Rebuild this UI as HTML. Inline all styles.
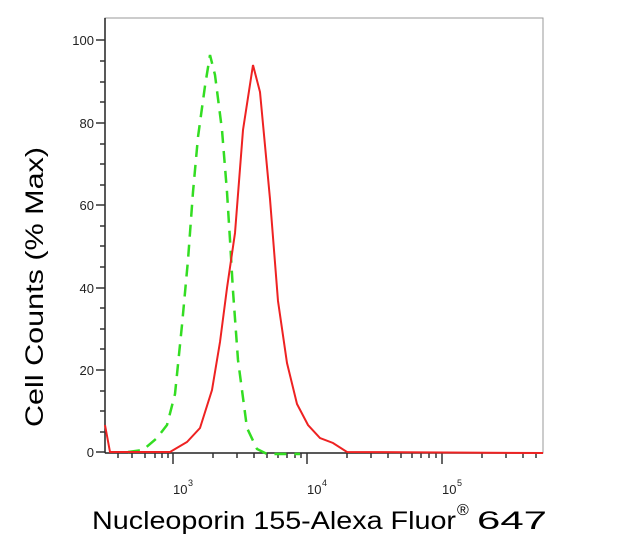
<!DOCTYPE html>
<html><head><style>
html,body{margin:0;padding:0;background:#fff;}
svg{display:block;}
text{font-family:"Liberation Sans",Arial,sans-serif;}
</style></head><body>
<svg width="640" height="539" viewBox="0 0 640 539" xmlns="http://www.w3.org/2000/svg">
<rect x="105" y="18" width="438" height="435" fill="none" stroke="#999" stroke-width="1"/>
<line x1="105" y1="18" x2="105" y2="453" stroke="#222" stroke-width="1.5"/>
<line x1="105" y1="453" x2="543" y2="453" stroke="#222" stroke-width="1.5"/>
<g stroke="#333" stroke-width="1.5">
<line x1="96" y1="452" x2="105" y2="452"/><line x1="96" y1="370" x2="105" y2="370"/><line x1="96" y1="288" x2="105" y2="288"/><line x1="96" y1="205" x2="105" y2="205"/><line x1="96" y1="123" x2="105" y2="123"/><line x1="96" y1="40" x2="105" y2="40"/>
<line x1="100" y1="432" x2="105" y2="432"/><line x1="100" y1="411" x2="105" y2="411"/><line x1="100" y1="391" x2="105" y2="391"/><line x1="100" y1="349" x2="105" y2="349"/><line x1="100" y1="329" x2="105" y2="329"/><line x1="100" y1="308" x2="105" y2="308"/><line x1="100" y1="267" x2="105" y2="267"/><line x1="100" y1="246" x2="105" y2="246"/><line x1="100" y1="226" x2="105" y2="226"/><line x1="100" y1="185" x2="105" y2="185"/><line x1="100" y1="164" x2="105" y2="164"/><line x1="100" y1="144" x2="105" y2="144"/><line x1="100" y1="102" x2="105" y2="102"/><line x1="100" y1="82" x2="105" y2="82"/><line x1="100" y1="61" x2="105" y2="61"/>
<line x1="173" y1="453" x2="173" y2="464"/><line x1="307" y1="453" x2="307" y2="464"/><line x1="442" y1="453" x2="442" y2="464"/>
<line x1="118" y1="453" x2="118" y2="458"/><line x1="132" y1="453" x2="132" y2="458"/><line x1="145" y1="453" x2="145" y2="458"/><line x1="155" y1="453" x2="155" y2="458"/><line x1="162" y1="453" x2="162" y2="458"/><line x1="168" y1="453" x2="168" y2="458"/>
<line x1="213" y1="453" x2="213" y2="458"/><line x1="237" y1="453" x2="237" y2="458"/><line x1="254" y1="453" x2="254" y2="458"/><line x1="267" y1="453" x2="267" y2="458"/><line x1="278" y1="453" x2="278" y2="458"/><line x1="287" y1="453" x2="287" y2="458"/><line x1="295" y1="453" x2="295" y2="458"/><line x1="301" y1="453" x2="301" y2="458"/>
<line x1="347" y1="453" x2="347" y2="458"/><line x1="371" y1="453" x2="371" y2="458"/><line x1="388" y1="453" x2="388" y2="458"/><line x1="401" y1="453" x2="401" y2="458"/><line x1="412" y1="453" x2="412" y2="458"/><line x1="421" y1="453" x2="421" y2="458"/><line x1="429" y1="453" x2="429" y2="458"/><line x1="436" y1="453" x2="436" y2="458"/>
<line x1="482" y1="453" x2="482" y2="458"/><line x1="506" y1="453" x2="506" y2="458"/><line x1="523" y1="453" x2="523" y2="458"/><line x1="536" y1="453" x2="536" y2="458"/>
</g>
<g font-size="13" fill="#222" text-anchor="end">
<text x="94" y="457">0</text><text x="94" y="375">20</text><text x="94" y="293">40</text><text x="94" y="210">60</text><text x="94" y="128">80</text><text x="94" y="45">100</text>
</g>
<g font-size="13" fill="#222">
<text x="173" y="494">10</text><text x="188" y="486" font-size="9">3</text>
<text x="307" y="494">10</text><text x="322" y="486" font-size="9">4</text>
<text x="442" y="494">10</text><text x="457" y="486" font-size="9">5</text>
</g>
<polyline fill="none" stroke="#33dd22" stroke-width="2.5" stroke-dasharray="12,8" points="128,452 143,450 157,438 167,425 175,394 182,325 188,260 193,192 198,137 205,86 210,55 215,75 222,130 227,192 230,240 233,291 238,360 247,428 257,449 267,454 300,454"/>
<polyline fill="none" stroke="#ee2222" stroke-width="2" points="105,425 110,452 170,452 187,442 200,428 212,390 220,342 227,288 235,233 243,130 253,65 260,92 270,199 278,301 287,363 297,404 308,425 320,438 333,443 347,452 543,453"/>
<text x="0" y="0" font-size="25" fill="#000" text-anchor="middle" textLength="280" lengthAdjust="spacingAndGlyphs" transform="translate(43,287) rotate(-90)">Cell Counts (% Max)</text>
<text x="92" y="529" font-size="25" fill="#000" textLength="364" lengthAdjust="spacingAndGlyphs">Nucleoporin 155-Alexa Fluor</text>
<text x="457" y="515" font-size="16" fill="#000">®</text>
<text x="477" y="529" font-size="25" fill="#000" textLength="70" lengthAdjust="spacingAndGlyphs">647</text>
</svg>
</body></html>
